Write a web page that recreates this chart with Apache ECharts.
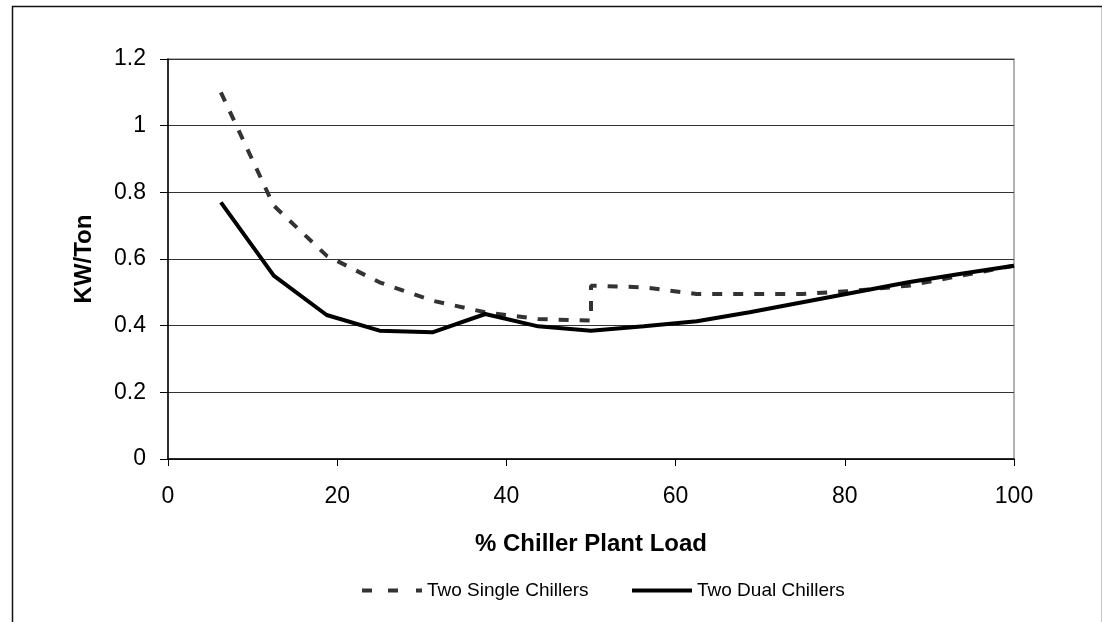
<!DOCTYPE html>
<html>
<head>
<meta charset="utf-8">
<script src="https://cdn.jsdelivr.net/npm/echarts@6/dist/echarts.min.js"></script>
<style>html,body{margin:0;padding:0;background:#fff}#c{width:1102px;height:622px}</style>
</head>
<body>
<div id="c"></div>
<script>
var loadPct = [6.25, 12.5, 18.75, 25, 31.25, 37.5, 43.75, 50, 56.25, 62.5, 68.75, 75, 81.25, 87.5, 93.75, 100];
var singleX = [6.25, 12.5, 18.75, 25, 31.25, 37.5, 43.75, 50, 50, 56.25, 62.5, 68.75, 75, 81.25, 87.5, 93.75, 100];
var singleY = [1.10, 0.76, 0.61, 0.53, 0.475, 0.44, 0.42, 0.415, 0.52, 0.515, 0.495, 0.495, 0.495, 0.505, 0.52, 0.55, 0.58];
var dualY = [0.77, 0.55, 0.432, 0.385, 0.38, 0.435, 0.398, 0.385, 0.398, 0.413, 0.44, 0.47, 0.50, 0.53, 0.556, 0.58];
var xTicks = [0, 20, 40, 60, 80, 100];
var yTicks = [0, 0.2, 0.4, 0.6, 0.8, 1, 1.2];
var seriesNames = ['Two Single Chillers', 'Two Dual Chillers'];

var chart = echarts.init(document.getElementById('c'));
var FONT = 'Liberation Sans, Arial, sans-serif';
var legendText = { fontSize: 19, color: '#000', fontFamily: FONT };
chart.setOption({
  animation: false,
  backgroundColor: '#fff',
  textStyle: { fontFamily: FONT },
  graphic: [{
    type: 'rect', left: 10, top: 4, z: 0,
    shape: { width: 1090, height: 700 },
    style: { fill: 'none', stroke: '#111', lineWidth: 1.5 }
  }],
  grid: { left: 168, right: 88, top: 59, bottom: 163, show: true, borderColor: '#999', borderWidth: 1.5 },
  legend: [{
    left: 357, top: 576, itemWidth: 60, itemHeight: 4, itemGap: 5,
    textStyle: legendText,
    data: [{ name: seriesNames[0], icon: 'path://M0,0h10v4h-10z M26,0h10v4h-10z M54,0h6v4h-6z' }]
  }, {
    left: 627, top: 576, itemWidth: 60, itemHeight: 4, itemGap: 5,
    textStyle: legendText,
    data: [{ name: seriesNames[1], icon: 'path://M0,0h60v4h-60z' }]
  }],
  xAxis: {
    type: 'value', min: xTicks[0], max: xTicks[xTicks.length - 1], interval: 20,
    name: '% Chiller Plant Load', nameLocation: 'middle', nameGap: 73,
    nameTextStyle: { fontSize: 24, fontWeight: 'bold', color: '#000', fontFamily: FONT, verticalAlign: 'top' },
    axisLine: { onZero: false, lineStyle: { color: '#000', width: 1.5 } },
    axisTick: { show: true, length: 7, inside: false, lineStyle: { color: '#000' } },
    axisLabel: { fontSize: 23, color: '#000', margin: 26, fontFamily: FONT },
    splitLine: { show: false }
  },
  yAxis: {
    type: 'value', min: yTicks[0], max: yTicks[yTicks.length - 1], interval: 0.2,
    name: 'KW/Ton', nameLocation: 'middle', nameGap: 72,
    nameTextStyle: { fontSize: 24, fontWeight: 'bold', color: '#000', fontFamily: FONT },
    axisLine: { show: true, lineStyle: { color: '#000', width: 1.5 } },
    axisTick: { show: true, length: 8, lineStyle: { color: '#000' } },
    axisLabel: { fontSize: 23, color: '#000', margin: 22, fontFamily: FONT,
      formatter: function (v) { return String(Math.round(v * 10) / 10); } },
    splitLine: { show: true, lineStyle: { color: '#333', width: 1.2 } }
  },
  series: [{
    name: seriesNames[0], type: 'line', showSymbol: false, symbol: 'none',
    data: singleX.map(function (x, i) { return [x, singleY[i]]; }),
    lineStyle: { color: '#333', width: 4, type: [10, 11] },
    itemStyle: { color: '#333' }, z: 3
  }, {
    name: seriesNames[1], type: 'line', showSymbol: false, symbol: 'none',
    data: loadPct.map(function (x, i) { return [x, dualY[i]]; }),
    lineStyle: { color: '#000', width: 4 },
    itemStyle: { color: '#000' }, z: 4
  }]
});
</script>
</body>
</html>
